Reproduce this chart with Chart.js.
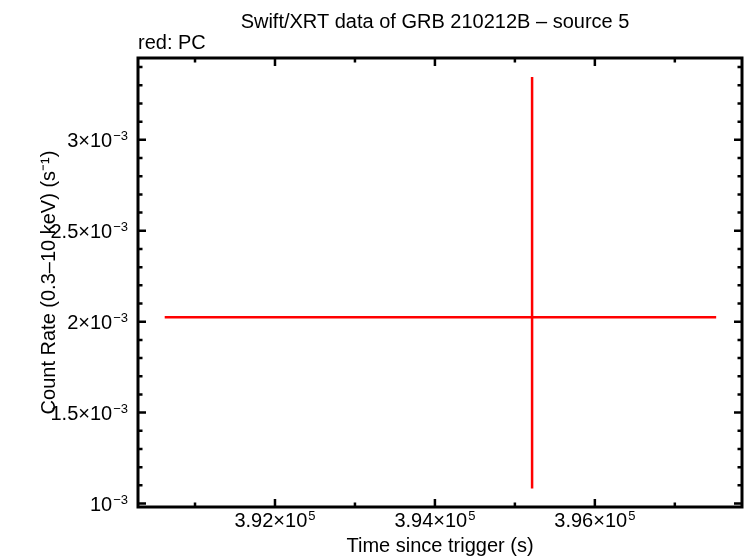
<!DOCTYPE html>
<html>
<head>
<meta charset="utf-8">
<script src="https://cdn.jsdelivr.net/npm/chart.js@4.4.1/dist/chart.umd.min.js"></script>
<style>
  html, body { margin: 0; padding: 0; background: #fff; }
  #wrap { width: 746px; height: 558px; }
</style>
</head>
<body>
<div id="wrap"><canvas id="lc" width="746" height="558"></canvas></div>
<script>
// light curve: one PC-mode bin
const times = [395215];
const timeLo = [390621];
const timeHi = [397517];
const rates = [2.024e-3];
const rateLo = [1.083e-3];
const rateHi = [3.346e-3];

// axis ticks
const xTicks = [392000, 394000, 396000];
const xTickBase = ['3.92×10', '3.94×10', '3.96×10'];
const xTickExp = '5';
const xMinor = [391000, 393000, 395000, 397000];
const yTicks = [0.001, 0.0015, 0.002, 0.0025, 0.003];
const yTickBase = ['10', '1.5×10', '2×10', '2.5×10', '3×10'];
const yTickExp = '−3';
const yMinor = [0.0011, 0.0012, 0.0013, 0.0014, 0.0016, 0.0017, 0.0018, 0.0019,
  0.0021, 0.0022, 0.0023, 0.0024, 0.0026, 0.0027, 0.0028, 0.0029,
  0.0031, 0.0032, 0.0033, 0.0034];

const FONT = '"Liberation Sans", Arial, Helvetica, sans-serif';
const RED = '#ff0000';

// draw the error bars of each bin through the scales
const errorBars = {
  id: 'errorBars',
  afterDatasetsDraw(chart) {
    const { ctx, scales: { x, y } } = chart;
    ctx.save();
    ctx.strokeStyle = RED;
    ctx.lineWidth = 2.5;
    times.forEach((t, i) => {
      const px = x.getPixelForValue(t), py = y.getPixelForValue(rates[i]);
      ctx.beginPath();
      ctx.moveTo(x.getPixelForValue(timeLo[i]), py);
      ctx.lineTo(x.getPixelForValue(timeHi[i]), py);
      ctx.moveTo(px, y.getPixelForValue(rateLo[i]));
      ctx.lineTo(px, y.getPixelForValue(rateHi[i]));
      ctx.stroke();
    });
    ctx.restore();
  }
};

function supLabel(ctx, base, exp, xPos, yPos, align) {
  ctx.font = '20px ' + FONT;
  const wb = ctx.measureText(base).width;
  ctx.font = '13px ' + FONT;
  const we = ctx.measureText(exp).width;
  const total = wb + we + 1;
  let left = xPos;
  if (align === 'right') left = xPos - total;
  if (align === 'center') left = xPos - total / 2;
  ctx.textAlign = 'left';
  ctx.textBaseline = 'alphabetic';
  ctx.font = '20px ' + FONT;
  ctx.fillText(base, left, yPos);
  ctx.font = '13px ' + FONT;
  ctx.fillText(exp, left + wb + 1, yPos - 7);
}

// gnuplot-like frame with inward ticks and labels
const frame = {
  id: 'frame',
  afterDraw(chart) {
    const { ctx, chartArea: a, scales: { x, y } } = chart;
    ctx.save();
    ctx.strokeStyle = '#000';
    ctx.fillStyle = '#000';
    ctx.lineWidth = 2.5;
    ctx.beginPath();
    const tickX = (v, len) => {
      const p = x.getPixelForValue(v);
      ctx.moveTo(p, a.bottom); ctx.lineTo(p, a.bottom - len);
      ctx.moveTo(p, a.top); ctx.lineTo(p, a.top + len);
    };
    const tickY = (v, len) => {
      const p = y.getPixelForValue(v);
      ctx.moveTo(a.left, p); ctx.lineTo(a.left + len, p);
      ctx.moveTo(a.right, p); ctx.lineTo(a.right - len, p);
    };
    xTicks.forEach(v => tickX(v, 8));
    xMinor.forEach(v => tickX(v, 4.5));
    yTicks.forEach(v => tickY(v, 8));
    yMinor.forEach(v => tickY(v, 4.5));
    ctx.stroke();
    ctx.lineWidth = 3;
    ctx.strokeRect(a.left, a.top, a.right - a.left, a.bottom - a.top);

    xTicks.forEach((v, i) => supLabel(ctx, xTickBase[i], xTickExp, x.getPixelForValue(v), 527, 'center'));
    yTicks.forEach((v, i) => supLabel(ctx, yTickBase[i], yTickExp, a.left - 10, y.getPixelForValue(v) + 7, 'right'));

    ctx.textBaseline = 'alphabetic';
    ctx.font = '20px ' + FONT;
    ctx.textAlign = 'center';
    ctx.fillText('Swift/XRT data of GRB 210212B – source 5', 435, 28);
    ctx.fillText('Time since trigger (s)', 440, 552);
    ctx.textAlign = 'left';
    ctx.fillText('red: PC', a.left, 49);

    ctx.translate(55, (a.top + a.bottom) / 2);
    ctx.rotate(-Math.PI / 2);
    ctx.textAlign = 'center';
    ctx.fillText('Count Rate (0.3–10 keV) (s⁻¹)', 0, 0);
    ctx.restore();
  }
};

new Chart(document.getElementById('lc'), {
  type: 'scatter',
  data: {
    datasets: [{
      label: 'PC',
      data: times.map((t, i) => ({ x: t, y: rates[i] })),
      pointRadius: 0,
      borderColor: RED,
      backgroundColor: RED
    }]
  },
  options: {
    responsive: false,
    animation: false,
    devicePixelRatio: 1,
    layout: { padding: { top: 58, right: 4, left: 0, bottom: 0 } },
    plugins: { legend: { display: false }, tooltip: { enabled: false }, title: { display: false } },
    scales: {
      x: {
        type: 'linear', min: 390287, max: 397840,
        grid: { display: false, drawTicks: false }, border: { display: false },
        ticks: { display: false },
        afterFit(s) { s.height = 51; }
      },
      y: {
        type: 'linear', min: 0.000981, max: 0.00345,
        grid: { display: false, drawTicks: false }, border: { display: false },
        ticks: { display: false },
        afterFit(s) { s.width = 138; }
      }
    }
  },
  plugins: [errorBars, frame]
});
</script>
</body>
</html>
